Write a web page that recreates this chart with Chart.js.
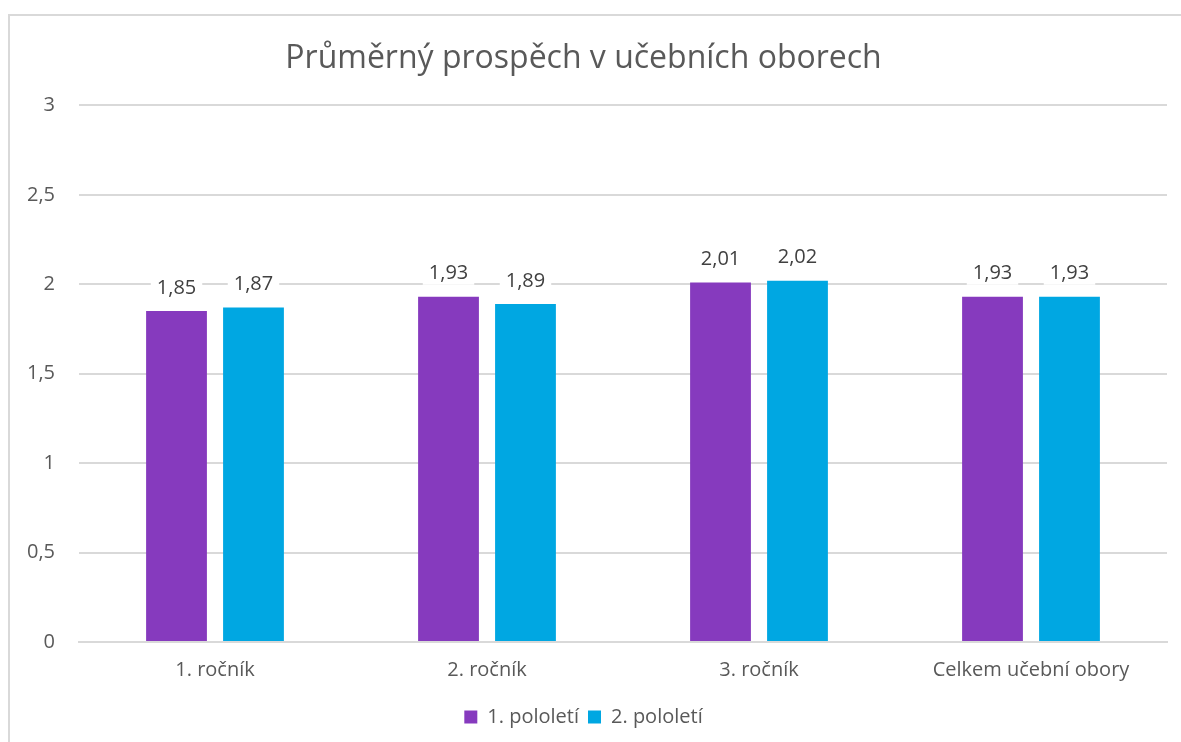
<!DOCTYPE html>
<html>
<head>
<meta charset="utf-8">
<script src="https://cdn.jsdelivr.net/npm/chart.js@4/dist/chart.umd.min.js"></script>
<style>
  html, body { margin:0; padding:0; background:#fff; overflow:hidden; }
  #wrap { position:absolute; left:0; top:0; width:1181px; height:742px; }
  #frame { position:absolute; left:8px; top:14px; width:1200px; height:760px; border:2px solid #d9d9d9; pointer-events:none; }
</style>
</head>
<body>
<div id="wrap"><canvas id="graf" width="1181" height="742"></canvas></div>
<div id="frame"></div>
<script>
// data z obrázku
const kategorie = ["1. ročník", "2. ročník", "3. ročník", "Celkem učební obory"];
const pololeti1 = [1.85, 1.93, 2.01, 1.93];
const pololeti2 = [1.87, 1.89, 2.02, 1.93];
const nazvyRad = ["1. pololetí", "2. pololetí"];
const yTicky = [0, 0.5, 1, 1.5, 2, 2.5, 3];

const FONT = "'Open Sans', sans-serif";
const carka = v => String(v).replace('.', ',');

// popisky hodnot nad sloupci (s bílým podkladem přes mřížku)
const popisky = {
    id: 'popisky',
    afterDatasetsDraw(chart) {
        const ctx = chart.ctx;
        ctx.save();
        ctx.font = "20px " + FONT;
        ctx.textAlign = 'center';
        ctx.textBaseline = 'middle';
        chart.data.datasets.forEach((ds, i) => {
            chart.getDatasetMeta(i).data.forEach((bar, j) => {
                const txt = ds.data[j].toFixed(2).replace('.', ',');
                const w = ctx.measureText(txt).width;
                const y = bar.y - 23;
                ctx.fillStyle = '#fff';
                ctx.fillRect(bar.x - w/2 - 6, y - 11, w + 12, 22);
                ctx.fillStyle = '#404040';
                ctx.fillText(txt, bar.x, y);
            });
        });
        ctx.restore();
    }
};

const ctx = document.getElementById('graf').getContext('2d');
new Chart(ctx, {
    type: 'bar',
    data: {
        labels: kategorie,
        datasets: [
            { label: nazvyRad[0], data: pololeti1, backgroundColor: '#863ABE' },
            { label: nazvyRad[1], data: pololeti2, backgroundColor: '#00A7E2' }
        ]
    },
    options: {
        responsive: false, animation: false,
        layout: { padding: { left: 0, right: 14, top: 0, bottom: 5 } },
        datasets: { bar: { barPercentage: 0.79, categoryPercentage: 0.566 } },
        plugins: {
            title: { display: true, text: "Průměrný prospěch v učebních oborech", color: '#595959',
                     font: { family: FONT, size: 32, weight: 'normal' }, padding: { top: 40, bottom: 27 } },
            legend: { position: 'bottom',
                      labels: { color: '#595959', font: { family: FONT, size: 20 }, boxWidth: 13, boxHeight: 13, padding: 9 } },
            tooltip: { enabled: false }
        },
        scales: {
            x: {
                grid: { display: false, drawTicks: false },
                border: { color: '#d9d9d9', width: 2 },
                ticks: { color: '#595959', font: { family: FONT, size: 20 }, padding: 16 }
            },
            y: {
                min: 0, max: 3,
                afterBuildTicks: s => { s.ticks = yTicky.map(v => ({ value: v })); },
                afterFit: s => { s.width = 79; },
                grid: { color: '#d9d9d9', lineWidth: 2, drawTicks: false },
                border: { display: false },
                ticks: { color: '#595959', font: { family: FONT, size: 20 }, padding: 24, callback: v => carka(v) }
            }
        }
    },
    plugins: [popisky]
});
</script>
</body>
</html>
